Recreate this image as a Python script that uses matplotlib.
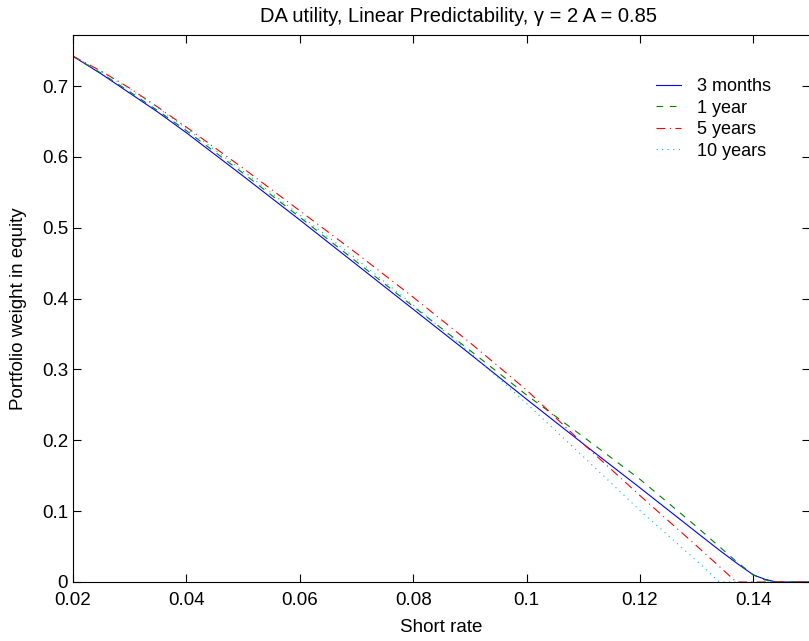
import matplotlib
matplotlib.use("Agg")
import matplotlib.pyplot as plt
from matplotlib.ticker import FormatStrFormatter

plt.rcParams['font.family'] = ['Liberation Sans', 'DejaVu Sans']

# short rate grid
rate = [0.02, 0.025, 0.03, 0.035, 0.04, 0.05, 0.06, 0.07, 0.08, 0.09,
        0.10, 0.11, 0.12, 0.13, 0.134, 0.137, 0.14, 0.142, 0.144, 0.15]

w_3m = [0.742, 0.717, 0.690, 0.663, 0.634, 0.573, 0.511, 0.448, 0.385, 0.322,
        0.258, 0.195, 0.133, 0.070, 0.045, 0.027, 0.010, 0.004, 0.0, 0.0]
w_1y = [0.742, 0.718, 0.692, 0.665, 0.637, 0.577, 0.515, 0.452, 0.389, 0.327,
        0.264, 0.205, 0.145, 0.078, 0.050, 0.029, 0.010, 0.003, 0.0, 0.0]
w_5y = [0.742, 0.721, 0.697, 0.670, 0.642, 0.584, 0.524, 0.464, 0.402, 0.338,
        0.271, 0.195, 0.122, 0.051, 0.022, 0.0, 0.0, 0.0, 0.0, 0.0]
w_10y = [0.742, 0.720, 0.696, 0.669, 0.640, 0.580, 0.518, 0.456, 0.391, 0.324,
         0.252, 0.177, 0.101, 0.030, 0.0, 0.0, 0.0, 0.0, 0.0, 0.0]

fig = plt.figure(figsize=(8.09, 6.41), dpi=100)
ax = fig.add_axes([73 / 809, 59 / 641, 737 / 809, 547 / 641])

ax.plot(rate, w_3m, color='#0000ff', linestyle='-', linewidth=0.8, label='3 months')
ax.plot(rate, w_1y, color='#008000', linestyle=(0, (6, 6)), linewidth=0.8, label='1 year')
ax.plot(rate, w_5y, color='#ff0000', linestyle=(0, (8, 4, 1, 4)), linewidth=0.8, label='5 years')
ax.plot(rate, w_10y, color='#00bfbf', linestyle=(0, (1, 4)), linewidth=0.8, label='10 years')

ax.set_xlim(0.02, 0.15)
ax.set_ylim(0, 0.772)
ax.set_xticks([0.02, 0.04, 0.06, 0.08, 0.10, 0.12, 0.14])
ax.set_yticks([0, 0.1, 0.2, 0.3, 0.4, 0.5, 0.6, 0.7])
ax.xaxis.set_major_formatter(FormatStrFormatter('%g'))
ax.yaxis.set_major_formatter(FormatStrFormatter('%g'))
ax.tick_params(direction='in', top=True, right=True, length=6, width=0.8,
               labelsize=13.5)
ax.tick_params(axis='x', pad=7.5)
ax.tick_params(axis='y', pad=3.5)
for s in ax.spines.values():
    s.set_linewidth(0.8)

ax.set_xlabel('Short rate', fontsize=13.5, labelpad=7)
ax.set_ylabel('Portfolio weight in equity', fontsize=13.5, labelpad=10.5)
ax.set_title('DA utility, Linear Predictability, γ = 2 A = 0.85',
             fontsize=14.5, x=(459 - 73) / 737, pad=9)

ax.legend(loc='upper right', bbox_to_anchor=(0.969, 0.951), frameon=False,
          fontsize=13, handlelength=1.35, labelspacing=0.25, handletextpad=0.9)

fig.savefig('out.png', dpi=100)
